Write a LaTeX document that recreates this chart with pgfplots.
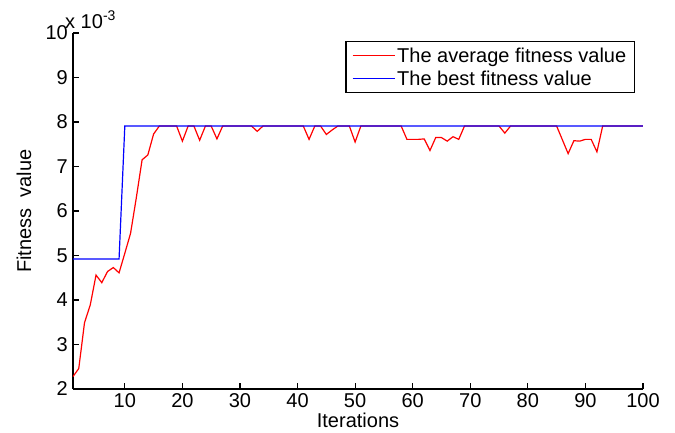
\documentclass[border=0pt]{standalone}
\usepackage{fontspec}
\setmainfont{Liberation Sans}
\usepackage{pgfplots}
\pgfplotsset{compat=1.18}
\begin{document}
\begin{tikzpicture}
\useasboundingbox (-73pt,-43pt) rectangle (602pt,389pt);
\begin{axis}[
  at={(0pt,0pt)}, anchor=south west,
  scale only axis, width=570pt, height=356pt,
  xmin=1, xmax=100, ymin=2, ymax=10,
  axis lines*=left,
  axis line style={line width=1.5pt},
  tick align=inside,
  major tick length=6pt,
  every tick/.style={black, line width=1.2pt},
  xtick={10,20,...,100},
  ytick={2,3,...,10},
  font=\fontsize{20}{23}\selectfont,
  /pgf/number format/assume math mode=true,
  xticklabel style={inner sep=2pt, yshift=-2pt},
  yticklabel style={inner sep=2pt, xshift=-3pt},
  xlabel={Iterations},
  ylabel={Fitness~ value},
  xlabel style={at={(axis description cs:0.5,0)}, anchor=base, yshift=-38pt},
  ylabel style={at={(axis description cs:0,0.5)}, anchor=center, yshift=49pt},
  legend cell align=left,
  legend style={at={(0.986,0.978)}, anchor=north east, draw=black, line width=1.5pt,
    inner xsep=6pt, inner ysep=4pt, row sep=3pt,
    font=\fontsize{20}{23}\selectfont},
  legend image code/.code={\draw[#1, line width=1.2pt] (0pt,0pt) -- (42pt,0pt);},
  clip=false,
]
\addplot[red, line width=1.2pt] coordinates {
(1,2.28)(2,2.46)(3,3.49)(4,3.89)(5,4.56)(6,4.39)(7,4.64)(8,4.73)(9,4.61)(10,5.05)
(11,5.50)(12,6.30)(13,7.15)(14,7.26)(15,7.73)(16,7.91)(17,7.91)(18,7.91)(19,7.91)(20,7.57)
(21,7.91)(22,7.91)(23,7.59)(24,7.91)(25,7.91)(26,7.62)(27,7.91)(28,7.91)(29,7.91)(30,7.91)
(31,7.91)(32,7.91)(33,7.79)(34,7.91)(35,7.91)(36,7.91)(37,7.91)(38,7.91)(39,7.91)(40,7.91)
(41,7.91)(42,7.61)(43,7.91)(44,7.91)(45,7.72)(46,7.82)(47,7.91)(48,7.91)(49,7.91)(50,7.55)
(51,7.91)(52,7.91)(53,7.91)(54,7.91)(55,7.91)(56,7.91)(57,7.91)(58,7.91)(59,7.61)(60,7.61)
(61,7.61)(62,7.62)(63,7.36)(64,7.65)(65,7.65)(66,7.57)(67,7.67)(68,7.61)(69,7.91)(70,7.91)
(71,7.91)(72,7.91)(73,7.91)(74,7.91)(75,7.91)(76,7.75)(77,7.91)(78,7.91)(79,7.91)(80,7.91)
(81,7.91)(82,7.91)(83,7.91)(84,7.91)(85,7.91)(86,7.60)(87,7.29)(88,7.58)(89,7.57)(90,7.61)
(91,7.61)(92,7.33)(93,7.91)(94,7.91)(95,7.91)(96,7.91)(97,7.91)(98,7.91)(99,7.91)(100,7.91)
};
\addlegendentry{The average fitness value}
\addplot[blue, line width=1.2pt] coordinates {
(1,4.92)(2,4.92)(3,4.92)(4,4.92)(5,4.92)(6,4.92)(7,4.92)(8,4.92)(9,4.92)(10,7.91)
(100,7.91)
};
\addlegendentry{The best fitness value}
\node[anchor=base west, inner sep=0pt] at ([xshift=-8pt, yshift=5pt]rel axis cs:0,1) {x 10\textsuperscript{-3}};
\end{axis}
\end{tikzpicture}
\end{document}
